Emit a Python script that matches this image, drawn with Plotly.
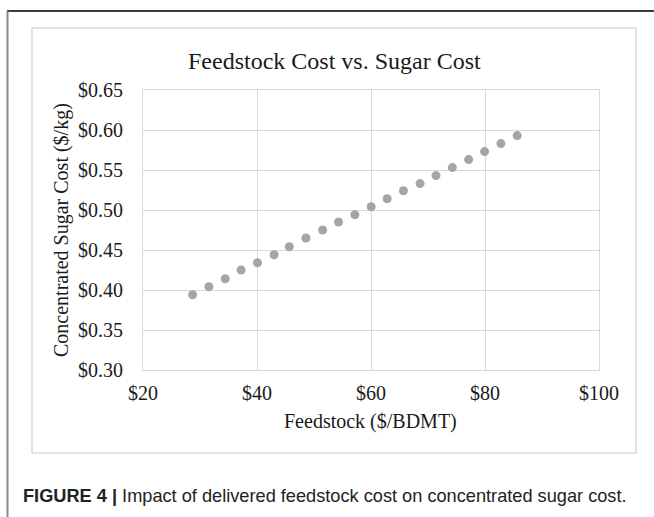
import plotly.graph_objects as go

# Data
feedstock_cost = [28.70, 31.56, 34.42, 37.22, 40.08, 43.00, 45.67, 48.59, 51.51, 54.31,
                  57.17, 60.03, 62.83, 65.69, 68.61, 71.41, 74.27, 77.13, 79.93, 82.79, 85.65]
sugar_cost = [0.394, 0.404, 0.414, 0.425, 0.434, 0.444, 0.454, 0.465, 0.475, 0.485,
              0.494, 0.504, 0.514, 0.524, 0.533, 0.543, 0.553, 0.563, 0.573, 0.583, 0.593]
x_ticks = [20, 40, 60, 80, 100]
y_ticks = [0.30, 0.35, 0.40, 0.45, 0.50, 0.55, 0.60, 0.65]

W, H = 654, 517
L, R, T, B = 143, 55, 90, 147
PW, PH = W - L - R, H - T - B

def px(p):
    return (p - L) / PW

def py(p):
    return 1 - (p - T) / PH

SERIF = "Liberation Serif, Times New Roman, serif"
SANS = "Liberation Sans, Arial, Helvetica, sans-serif"
GRID = "#d9d9d9"

fig = go.Figure()
fig.add_trace(go.Scatter(
    x=feedstock_cost, y=sugar_cost, mode="markers",
    marker=dict(size=9, color="#a5a5a5"),
    showlegend=False, cliponaxis=False,
))

fig.update_layout(
    width=W, height=H,
    margin=dict(l=L, r=R, t=T, b=B, pad=0),
    paper_bgcolor="white", plot_bgcolor="white",
    font=dict(family=SERIF, color="#1a1a1a"),
    xaxis=dict(
        range=[20, 100], tickvals=x_ticks, ticktext=[f"${v}" for v in x_ticks],
        showgrid=True, gridcolor=GRID, gridwidth=1,
        showline=True, linecolor=GRID, linewidth=1, mirror=True,
        zeroline=False, ticks="", tickfont=dict(family=SERIF, size=20, color="#1a1a1a"),
        ticklabelstandoff=5,
    ),
    yaxis=dict(
        range=[0.30, 0.65], tickvals=y_ticks, ticktext=[f"${v:.2f}" for v in y_ticks],
        showgrid=True, gridcolor=GRID, gridwidth=1,
        showline=True, linecolor=GRID, linewidth=1, mirror=True,
        zeroline=False, ticks="", tickfont=dict(family=SERIF, size=20, color="#1a1a1a"),
        ticklabelstandoff=15,
    ),
    shapes=[
        dict(type="line", xref="paper", yref="paper", x0=px(7), x1=px(660), y0=py(11), y1=py(11),
             line=dict(color="#3a3a3a", width=2), layer="below"),
        dict(type="line", xref="paper", yref="paper", x0=px(7.5), x1=px(7.5), y0=py(11), y1=py(520),
             line=dict(color="#8a8a8a", width=2), layer="below"),
        dict(type="rect", xref="paper", yref="paper", x0=px(32), x1=px(636), y0=py(28), y1=py(453),
             line=dict(color=GRID, width=1.5), layer="below"),
    ],
    annotations=[
        dict(text="Feedstock Cost vs. Sugar Cost", xref="paper", yref="paper",
             x=px(334), y=py(61), xanchor="center", yanchor="middle", showarrow=False,
             font=dict(family=SERIF, size=24, color="#1a1a1a")),
        dict(text="Feedstock ($/BDMT)", xref="paper", yref="paper",
             x=px(370), y=py(421), xanchor="center", yanchor="middle", showarrow=False,
             font=dict(family=SERIF, size=20, color="#1a1a1a")),
        dict(text="Concentrated Sugar Cost ($/kg)", xref="paper", yref="paper",
             x=px(61), y=py(230), xanchor="center", yanchor="middle", showarrow=False,
             textangle=-90, font=dict(family=SERIF, size=20, color="#1a1a1a")),
        dict(text="<b>FIGURE 4 |</b> Impact of delivered feedstock cost on concentrated sugar cost.",
             xref="paper", yref="paper",
             x=px(21), y=py(496), xanchor="left", yanchor="middle", showarrow=False,
             font=dict(family=SANS, size=18.2, color="#222222")),
    ],
)

fig.write_html("out.html", config={"displayModeBar": False},
               post_script="document.body.style.margin='0';")
